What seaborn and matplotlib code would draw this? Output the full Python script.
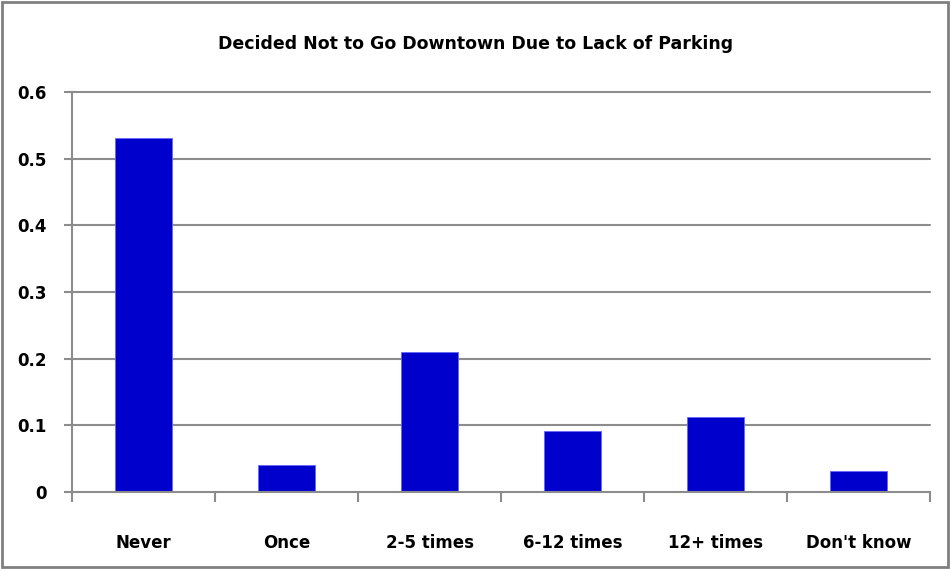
import numpy as np
import pandas as pd
import matplotlib
matplotlib.use("Agg")
import matplotlib.pyplot as plt
import seaborn as sns

# ==============================
# DATA
# ==============================

categories = ["Never", "Once", "2-5 times", "6-12 times", "12+ times", "Don't know"]
shares = [0.531, 0.040, 0.210, 0.091, 0.112, 0.031]
y_ticks = [0, 0.1, 0.2, 0.3, 0.4, 0.5, 0.6]
y_tick_labels = ["0", "0.1", "0.2", "0.3", "0.4", "0.5", "0.6"]

df = pd.DataFrame({"category": categories, "share": shares})

# ==============================
# PLOT
# ==============================

sns.set_style("white")
plt.rcParams["font.family"] = ["DejaVu Sans"]
plt.rcParams["text.color"] = "black"
plt.rcParams["xtick.color"] = "black"
plt.rcParams["ytick.color"] = "black"

fig = plt.figure(figsize=(9.51, 5.69), dpi=100)
ax = fig.add_axes([0.0757, 0.1353, 0.9023, 0.7030])

sns.barplot(data=df, x="category", y="share", color="#0000CC",
            width=0.4, saturation=1, edgecolor="#6666FF", linewidth=0.6, ax=ax)

ax.set_xlim(-0.5, len(categories) - 0.5)
ax.set_ylim(0, 0.6)
ax.set_yticks(y_ticks)
ax.set_yticklabels(y_tick_labels, fontsize=12, fontweight="bold", color="black")
ax.set_xticks(range(len(categories)))
ax.set_xticklabels(categories, fontsize=12, fontweight="bold", color="black")
ax.set_xticks(np.arange(-0.5, len(categories)), minor=True)
ax.tick_params(axis="x", which="major", bottom=True, length=0, pad=30)
ax.tick_params(axis="x", which="minor", bottom=True, length=7, width=1.5, color="#8c8c8c")
ax.tick_params(axis="y", left=True, length=6, width=1.5, color="#8c8c8c", pad=12)
ax.set_xlabel("")
ax.set_ylabel("")

# gridlines
for yv in y_ticks[1:]:
    ax.axhline(yv, color="#8c8c8c", linewidth=1.5, zorder=0, clip_on=False)
ax.set_axisbelow(True)
for side in ["top", "right"]:
    ax.spines[side].set_visible(False)
for side in ["left", "bottom"]:
    ax.spines[side].set_color("#8c8c8c")
    ax.spines[side].set_linewidth(1.5)

fig.text(0.5, 0.922, "Decided Not to Go Downtown Due to Lack of Parking",
         ha="center", va="center", fontsize=12.5, fontweight="bold", color="black")

# figure border
fig.patches.append(plt.Rectangle((0.002, 0.003), 0.995, 0.993, transform=fig.transFigure,
                                 fill=False, edgecolor="#808080", linewidth=2))

fig.savefig("out.png", dpi=100)
